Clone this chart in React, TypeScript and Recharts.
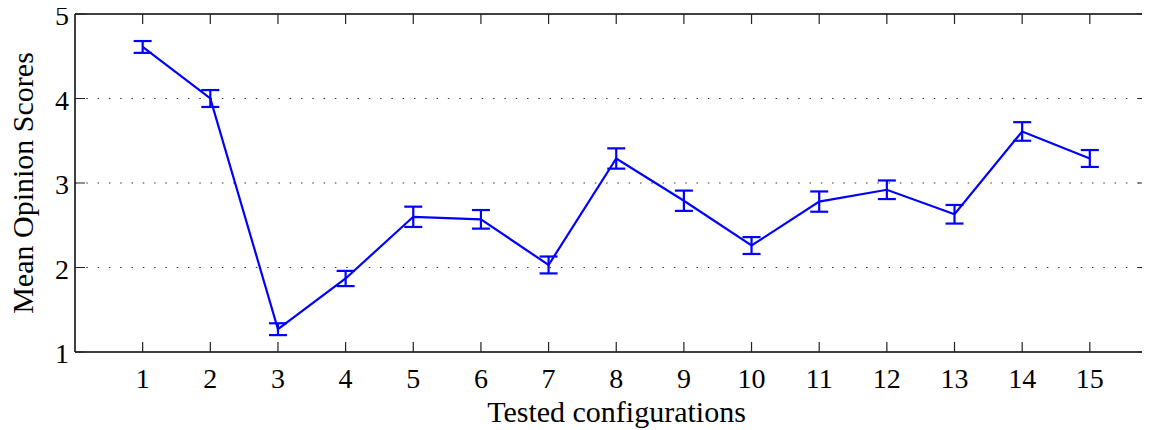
import { LineChart, Line, XAxis, YAxis, CartesianGrid, ErrorBar, ReferenceLine } from 'recharts'

// tested configuration numbers
const configs = [1, 2, 3, 4, 5, 6, 7, 8, 9, 10, 11, 12, 13, 14, 15]
// mean opinion score per configuration
const mos = [4.61, 4.0, 1.27, 1.87, 2.6, 2.57, 2.03, 3.29, 2.79, 2.26, 2.78, 2.92, 2.63, 3.61, 3.29]
// confidence half-interval per configuration
const ci = [0.07, 0.1, 0.07, 0.09, 0.12, 0.11, 0.1, 0.12, 0.12, 0.1, 0.12, 0.11, 0.11, 0.11, 0.1]

const yTicks = [1, 2, 3, 4, 5]
const gridValues = [2, 3, 4]
const X_MAX = 15.86

const FONT = '"Liberation Serif", "Times New Roman", serif'
const TICK_LEN = 10
const W = 1150
const H = 430
const MARGIN = { top: 14, right: 2, bottom: 28, left: 15 }
const PLOT_TOP = MARGIN.top
const PLOT_RIGHT = W - MARGIN.right

// bottom tick: inner tick on bottom and mirrored one on the top frame
const BottomTick = ({ x, y, payload }: any) => (
  <g>
    <path d={`M${x},${y}v${-TICK_LEN}M${x},${PLOT_TOP}v${TICK_LEN}`} stroke="#222" strokeWidth={1.2} fill="none" />
    <text x={x} y={y + 35.5} textAnchor="middle" fontSize={28} fontFamily={FONT} fill="#000">
      {payload.value}
    </text>
  </g>
)

// left tick: inner tick on left and mirrored one on the right frame
const LeftTick = ({ x, y, payload }: any) => (
  <g>
    <path d={`M${x},${y}h${TICK_LEN}M${PLOT_RIGHT},${y}h${-TICK_LEN}`} stroke="#222" strokeWidth={1.2} fill="none" />
    <text x={x - 6} y={y + 11} textAnchor="end" fontSize={28} fontFamily={FONT} fill="#000">
      {payload.value}
    </text>
  </g>
)

const XTitle = ({ viewBox }: any) => (
  <text
    x={viewBox.x + viewBox.width / 2 + 5}
    y={viewBox.y + 70}
    textAnchor="middle"
    fontSize={30}
    fontFamily={FONT}
    fill="#000"
  >
    Tested configurations
  </text>
)

const YTitle = ({ viewBox }: any) => {
  const x = viewBox.x + 18
  const y = viewBox.y + viewBox.height / 2
  return (
    <text
      x={x}
      y={y}
      transform={`rotate(-90, ${x}, ${y})`}
      textAnchor="middle"
      fontSize={30}
      fontFamily={FONT}
      fill="#000"
    >
      Mean Opinion Scores
    </text>
  )
}

export default function App() {
  const data = configs.map((c, i) => ({ config: c, mos: mos[i], ci: ci[i] }))
  const axisLine = { stroke: '#000', strokeWidth: 1.5 }

  return (
    <div style={{ width: W, height: H, margin: '-8px 0 0 -8px', fontFamily: FONT }}>
      <LineChart width={W} height={H} data={data} margin={MARGIN}>
        <CartesianGrid
          vertical={false}
          horizontalValues={gridValues}
          stroke="#333"
          strokeDasharray="1.5 9.8"
        />
        <XAxis
          dataKey="config"
          type="number"
          domain={[0, X_MAX]}
          ticks={configs}
          interval={0}
          height={50}
          tickSize={0}
          tickMargin={0}
          tickLine={false}
          axisLine={axisLine}
          tick={<BottomTick />}
          label={<XTitle />}
        />
        <YAxis
          type="number"
          domain={[1, 5]}
          ticks={yTicks}
          interval={0}
          width={60}
          tickSize={0}
          tickMargin={0}
          tickLine={false}
          axisLine={axisLine}
          tick={<LeftTick />}
          label={<YTitle />}
        />
        <ReferenceLine y={5} stroke="#000" strokeWidth={1.5} />
        <ReferenceLine x={X_MAX} stroke="#000" strokeWidth={1.5} />
        <Line
          type="linear"
          dataKey="mos"
          stroke="#0000ff"
          strokeWidth={2.2}
          dot={false}
          isAnimationActive={false}
        >
          <ErrorBar dataKey="ci" direction="y" width={9} stroke="#0000ff" strokeWidth={2.2} />
        </Line>
      </LineChart>
    </div>
  )
}
